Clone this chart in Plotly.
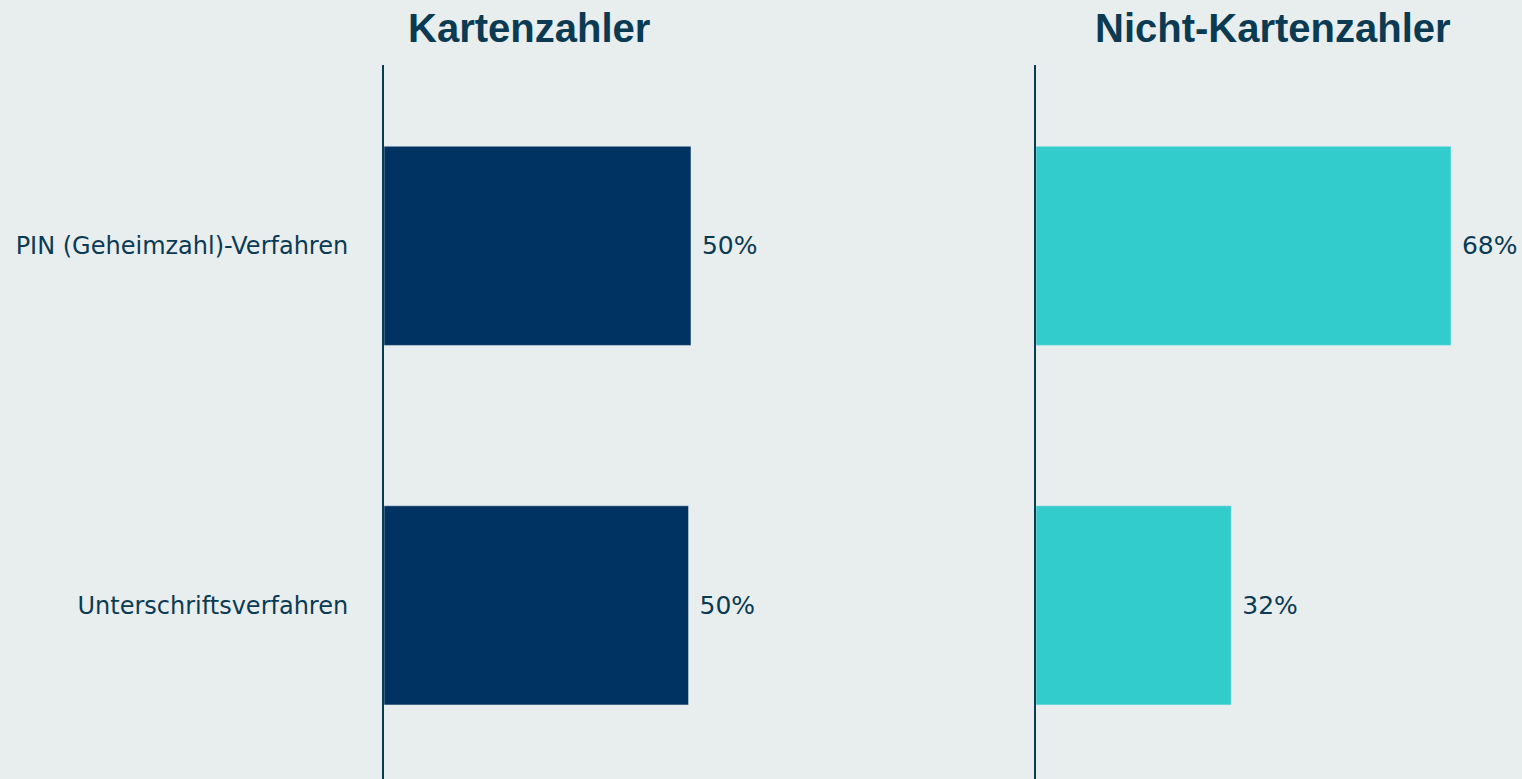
import plotly.graph_objects as go

categories = ["PIN (Geheimzahl)-Verfahren", "Unterschriftsverfahren"]
kartenzahler = [50.3, 49.9]
nicht_kartenzahler = [68, 32]
panel_titles = ["Kartenzahler", "Nicht-Kartenzahler"]

W, H = 1522, 779
BG = "#E8EDEE"
TXT = "#0B3A53"
NAVY = "#003361"
TEAL = "#33CCCC"
PX_PER_UNIT = 6.103

fig = go.Figure()
fig.add_trace(go.Bar(
    y=categories, x=kartenzahler, orientation="h", marker_color=NAVY,
    width=0.554, texttemplate=" %{x:.0f}%", textposition="outside",
    textfont=dict(family="DejaVu Sans", size=25, color=TXT),
    cliponaxis=False, xaxis="x", yaxis="y", hoverinfo="skip"))
fig.add_trace(go.Bar(
    y=categories, x=nicht_kartenzahler, orientation="h", marker_color=TEAL,
    width=0.554, texttemplate=" %{x:.0f}%", textposition="outside",
    textfont=dict(family="DejaVu Sans", size=25, color=TXT),
    cliponaxis=False, xaxis="x2", yaxis="y2", hoverinfo="skip"))

left0, right0 = 384, 1036
lw = 80 * PX_PER_UNIT
rw = W - right0
ydom = [0, (H - 65) / H]
yrange = [1.483, -0.503]

common_x = dict(showgrid=False, zeroline=False, showticklabels=False, showline=False, fixedrange=True)
fig.update_layout(
    width=W, height=H, autosize=False,
    margin=dict(l=0, r=0, t=0, b=0),
    paper_bgcolor=BG, plot_bgcolor=BG, showlegend=False,
    xaxis=dict(domain=[left0 / W, (left0 + lw) / W], range=[0, 80], **common_x),
    xaxis2=dict(domain=[right0 / W, 1], range=[0, rw / PX_PER_UNIT], **common_x),
    yaxis=dict(domain=ydom, range=yrange, anchor="x", showgrid=False, zeroline=False,
               showline=True, linecolor="#0B3A53", linewidth=2,
               ticks="", ticklabelstandoff=29,
               tickfont=dict(family="DejaVu Sans", size=24, color=TXT), automargin=False),
    yaxis2=dict(domain=ydom, range=yrange, anchor="x2", showgrid=False, zeroline=False,
                showline=True, linecolor="#0B3A53", linewidth=2,
                showticklabels=False, ticks="", automargin=False),
    bargap=0.4,
)

for title, cx in zip(panel_titles, [529, 1273]):
    fig.add_annotation(text="<b>" + title + "</b>", x=cx / W, y=1 - 28 / H,
                       xref="paper", yref="paper", xanchor="center", yanchor="middle",
                       showarrow=False,
                       font=dict(family="Liberation Sans", size=40, color=TXT))

fig.write_html("out.html", config={"displayModeBar": False},
               post_script="document.body.style.margin='0';")
